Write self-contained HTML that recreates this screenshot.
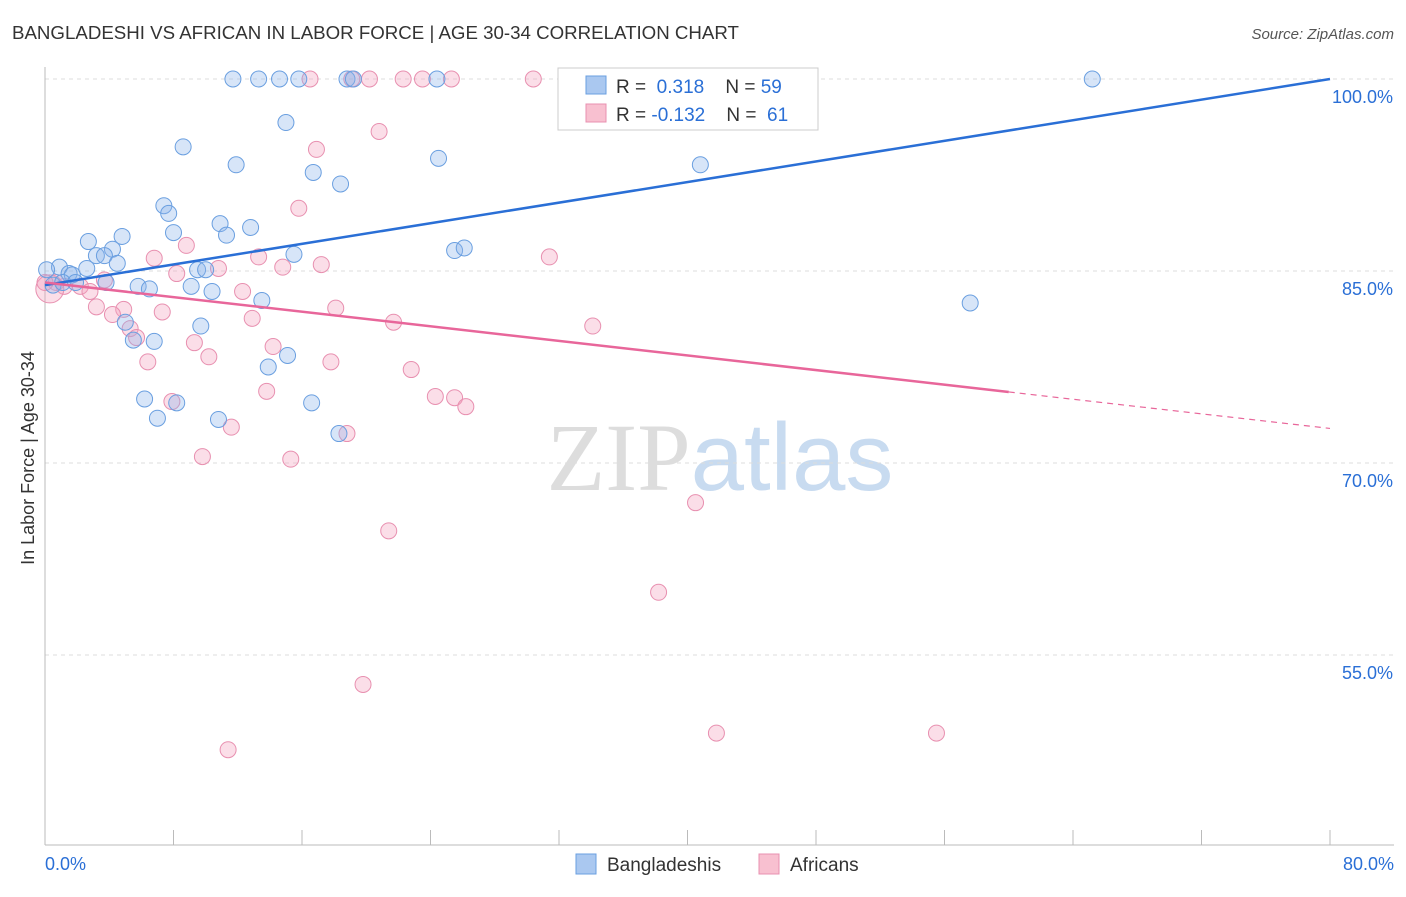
<!DOCTYPE html>
<html><head><meta charset="utf-8"><style>
body{margin:0;background:#fff;font-family:"Liberation Sans",sans-serif}
</style></head><body>
<svg id="chart" width="1406" height="892" xmlns="http://www.w3.org/2000/svg" font-family="Liberation Sans, sans-serif">
<text x="12" y="39" font-size="18.7" fill="#333">BANGLADESHI VS AFRICAN IN LABOR FORCE | AGE 30-34 CORRELATION CHART</text>
<text x="1394" y="39" font-size="15" fill="#555" font-style="italic" text-anchor="end">Source: ZipAtlas.com</text>
<text transform="translate(34,458) rotate(-90)" font-size="18" fill="#333" text-anchor="middle">In Labor Force | Age 30-34</text>
<text x="720" y="490" font-size="96" text-anchor="middle"><tspan fill="#ddd" font-family="Liberation Serif, serif">ZIP</tspan><tspan fill="#c8dbf0">atlas</tspan></text>
<g id="grid"></g><g id="pts"></g><g id="lines"></g>
<g>
<rect x="558" y="68" width="260" height="62" fill="#fff" stroke="#ccc"/>
<rect x="586" y="76" width="20" height="18" fill="#aac8f0" stroke="#6a9fe0"/>
<rect x="586" y="104" width="20" height="18" fill="#f8c0d0" stroke="#e890b0"/>
<text x="616" y="93" font-size="19" fill="#333">R = <tspan fill="#2a6fd6">&#160;0.318</tspan>&#160;&#160;&#160; N = <tspan fill="#2a6fd6">59</tspan></text>
<text x="616" y="121" font-size="19" fill="#333">R = <tspan fill="#2a6fd6">-0.132</tspan>&#160;&#160;&#160; N = <tspan fill="#2a6fd6">&#160;61</tspan></text>
</g>
<g>
<rect x="576" y="854" width="20" height="20" fill="#aac8f0" stroke="#6a9fe0"/>
<text x="607" y="871" font-size="19" fill="#333">Bangladeshis</text>
<rect x="759" y="854" width="20" height="20" fill="#f8c0d0" stroke="#e890b0"/>
<text x="790" y="871" font-size="19" fill="#333">Africans</text>
</g>
</svg>
<script>
const yTicks=[100,85,70,55];
const xTickLabels=["0.0%","80.0%"];
const blueX=[11.7,13.3,14.6,15.8,18.8,19.2,24.4,65.2,15.0,8.6,11.9,24.5,40.8,16.7,18.4,7.4,7.7,10.9,12.8,8.0,11.3,4.8,2.7,4.2,25.5,26.1,15.5,3.2,3.7,4.5,0.9,2.6,0.1,9.5,10.0,1.5,1.7,0.5,3.8,5.8,6.5,9.1,10.4,13.5,57.6,5.0,9.7,5.5,6.8,15.1,13.9,6.2,8.2,16.6,7.0,10.8,18.3,1.1,1.9];
const blueY=[100,100,100,100,100,100,100,100,96.6,94.7,93.3,93.8,93.3,92.7,91.8,90.1,89.5,88.7,88.4,88.0,87.8,87.7,87.3,86.7,86.6,86.8,86.3,86.2,86.2,85.6,85.3,85.2,85.1,85.1,85.1,84.8,84.7,83.9,84.1,83.8,83.6,83.8,83.4,82.7,82.5,81.0,80.7,79.6,79.5,78.4,77.5,75.0,74.7,74.7,73.5,73.4,72.3,84.1,84.1];
const pinkX=[16.5,19.1,20.2,22.3,23.5,25.3,30.4,32.9,43.3,20.8,16.9,15.8,8.8,6.8,13.3,17.2,14.8,10.8,8.2,31.4,3.7,0.7,1.2,2.2,2.8,12.3,3.2,4.9,18.1,7.3,4.2,12.9,21.7,34.1,5.3,5.7,9.3,14.2,10.2,6.4,17.8,22.8,13.8,24.3,25.5,7.9,26.2,11.6,18.8,9.8,15.3,21.4,40.5,38.2,19.8,11.4,41.8,55.5,0.3,0];
const pinkY=[100,100,100,100,100,100,100,100,100,95.9,94.5,89.9,87.0,86.0,86.1,85.5,85.3,85.2,84.8,86.1,84.3,84.1,83.8,83.8,83.4,83.4,82.2,82.0,82.1,81.8,81.6,81.3,81.0,80.7,80.5,79.8,79.4,79.1,78.3,77.9,77.9,77.3,75.6,75.2,75.1,74.8,74.4,72.8,72.3,70.5,70.3,64.7,66.9,59.9,52.7,47.6,48.9,48.9,83.6,84.1];
const blueTrend=[83.9,100];
const pinkTrend=[84.1,72.7];
const X=v=>45+v/80*1285, Y=v=>79+(100-v)*12.8;
const NS="http://www.w3.org/2000/svg";
function mk(t,a,p){const e=document.createElementNS(NS,t);for(const k in a)e.setAttribute(k,a[k]);p.appendChild(e);return e;}
const grid=document.getElementById('grid');
yTicks.forEach(t=>{
 const l=mk('line',{x1:45,x2:1394,y1:Y(t),y2:Y(t),stroke:'#ddd','stroke-dasharray':'4,4'},grid);
 
 
 const tx=mk('text',{x:1393,y:Y(t)+24,'font-size':18,fill:'#2a6fd6','text-anchor':'end'},grid);
 tx.textContent=t.toFixed(1)+'%';
 
 
});
const ax=mk('line',{x1:45,x2:45,y1:67,y2:845,stroke:'#bbb'},grid);


const bx=mk('line',{x1:45,x2:1394,y1:845,y2:845,stroke:'#bbb'},grid);


for(let i=0;i<=10;i++){const t=mk('line',{x1:X(i*8),x2:X(i*8),y1:830,y2:845,stroke:'#bbb'},grid);
 
 }
[[0,'start',45],[1,'end',1394]].forEach(([i,a,x])=>{const t=mk('text',{x:x,y:870,'font-size':18,fill:'#2a6fd6','text-anchor':a},grid);t.textContent=xTickLabels[i];
 
 });
const pts=document.getElementById('pts');
pinkX.forEach((x,i)=>{const c=mk('circle',{cx:X(x),cy:Y(pinkY[i]),r:i==58?14:8,fill:'rgba(244,160,190,0.35)',stroke:'#e890b0','stroke-width':1},pts);
 
 });
blueX.forEach((x,i)=>{const c=mk('circle',{cx:X(x),cy:Y(blueY[i]),r:8,fill:'rgba(140,180,235,0.35)',stroke:'#6a9fe0','stroke-width':1},pts);
 
 });
const lines=document.getElementById('lines');
const bl=mk('line',{x1:X(0),y1:Y(blueTrend[0]),x2:X(80),y2:Y(blueTrend[1]),stroke:'#2a6fd6','stroke-width':2.5},lines);


const pm=pinkTrend[0]+(pinkTrend[1]-pinkTrend[0])*60/80;
const pl=mk('line',{x1:X(0),y1:Y(pinkTrend[0]),x2:X(60),y2:Y(pm),stroke:'#e8669a','stroke-width':2.5},lines);


const pd=mk('line',{x1:X(60),y1:Y(pm),x2:X(80),y2:Y(pinkTrend[1]),stroke:'#e8669a','stroke-width':1.2,'stroke-dasharray':'6,5'},lines);


</script>
</body></html>
